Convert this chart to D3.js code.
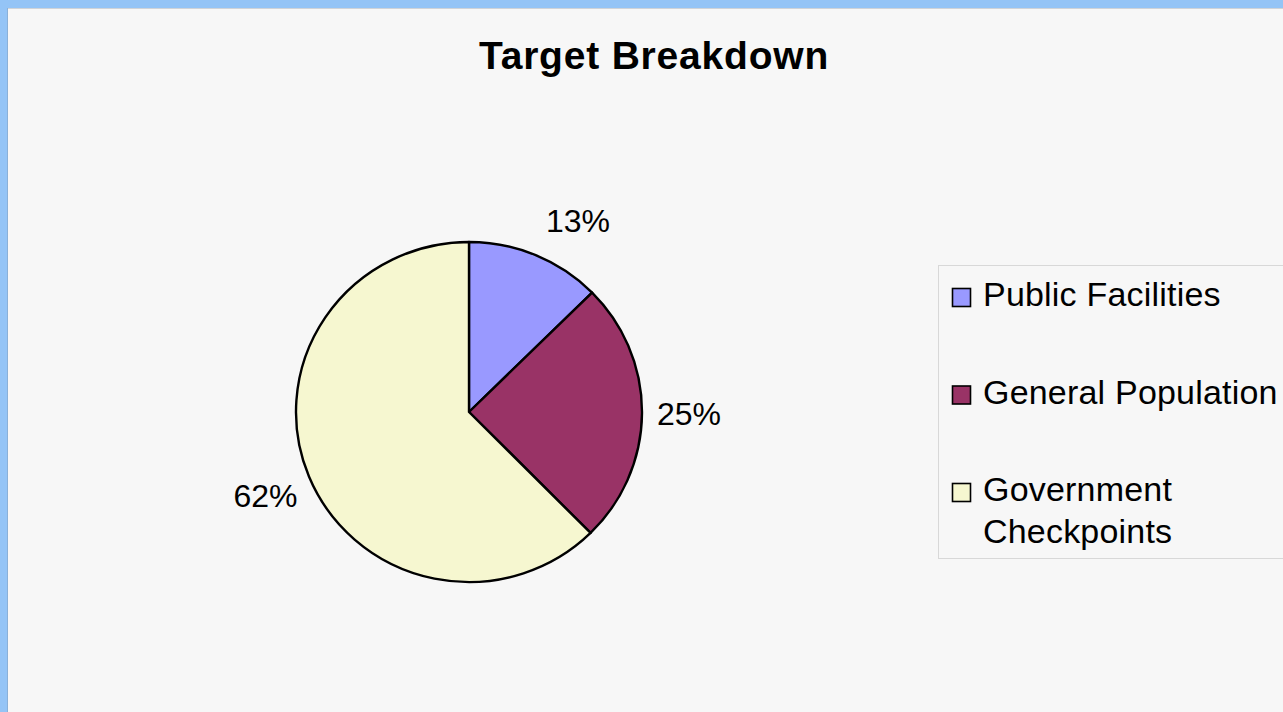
<!DOCTYPE html>
<html>
<head>
<meta charset="utf-8">
<script src="https://cdn.jsdelivr.net/npm/d3@7"></script>
<style>
  html, body { margin: 0; padding: 0; background: #94c4f6; }
  svg { display: block; }
</style>
</head>
<body>
<svg id="chart" width="1283" height="712"></svg>
<script>
// ---- data ----
const categories = ["Public Facilities", "General Population", "Government Checkpoints"];
const values = [12.6, 25, 62.4];
const colors = ["#9999ff", "#993366", "#f6f7d0"];
const legendLines = [["Public Facilities"], ["General Population"], ["Government", "Checkpoints"]];
const title = "Target Breakdown";

// ---- layout ----
const W = 1283, H = 712;
const cx = 469, cy = 412, rx = 173, ry = 170;
const labelR = 220;
const labelNudgeDeg = [7, 0, 0];
const font = "'Liberation Sans', Arial, Helvetica, sans-serif";

const svg = d3.select("#chart");

// frame
svg.append("rect").attr("x", 0).attr("y", 0).attr("width", W).attr("height", H).attr("fill", "#94c4f6");
svg.append("rect").attr("x", 7).attr("y", 8).attr("width", W).attr("height", H).attr("fill", "#f7f7f7");
svg.append("line").attr("x1", 7).attr("x2", W).attr("y1", 8.5).attr("y2", 8.5).attr("stroke", "#cfd3d8").attr("stroke-width", 1);
svg.append("line").attr("x1", 7.5).attr("x2", 7.5).attr("y1", 8).attr("y2", H).attr("stroke", "#8ab0d8").attr("stroke-width", 1);

// title
svg.append("text")
  .attr("x", 654).attr("y", 69)
  .attr("text-anchor", "middle")
  .attr("font-family", font).attr("font-weight", "bold")
  .attr("font-size", 39).attr("letter-spacing", 0.8)
  .attr("fill", "#000")
  .text(title);

// pie
const total = d3.sum(values);
const pie = d3.pie().sort(null).value(d => d)(values);
const arc = d3.arc().innerRadius(0).outerRadius(rx);

const g = svg.append("g").attr("transform", `translate(${cx},${cy}) scale(1,${ry / rx})`);
g.selectAll("path.slice")
  .data(pie)
  .join("path")
  .attr("class", "slice")
  .attr("d", arc)
  .attr("fill", (d, i) => colors[i])
  .attr("stroke", "#000")
  .attr("stroke-width", 2.4)
  .attr("stroke-linejoin", "round")
  .attr("vector-effect", "non-scaling-stroke");

// labels
const fmt = d3.format(".0%");
svg.selectAll("text.pct")
  .data(pie)
  .join("text")
  .attr("class", "pct")
  .attr("x", (d, i) => {
    const a = (d.startAngle + d.endAngle) / 2 + labelNudgeDeg[i] * Math.PI / 180;
    return cx + labelR * Math.sin(a);
  })
  .attr("y", (d, i) => {
    const a = (d.startAngle + d.endAngle) / 2 + labelNudgeDeg[i] * Math.PI / 180;
    return cy - labelR * Math.cos(a);
  })
  .attr("dy", "0.35em")
  .attr("text-anchor", "middle")
  .attr("font-family", font).attr("font-size", 32)
  .attr("fill", "#000")
  .text(d => fmt(d.data / total));

// legend
const lg = svg.append("g");
lg.append("rect")
  .attr("x", 938.5).attr("y", 265.5).attr("width", 400).attr("height", 293)
  .attr("fill", "#f7f7f7").attr("stroke", "#d8d8d8").attr("stroke-width", 1);

const itemY = d3.scalePoint().domain(categories).range([288, 483]);
const items = lg.selectAll("g.item").data(categories).join("g").attr("class", "item")
  .attr("transform", d => `translate(0,${itemY(d)})`);
items.append("rect")
  .attr("x", 952.5).attr("y", 0.5).attr("width", 18).attr("height", 18)
  .attr("fill", (d, i) => colors[i]).attr("stroke", "#000").attr("stroke-width", 1.6);
items.append("text")
  .attr("x", 983).attr("y", 18)
  .attr("font-family", font).attr("font-size", 34).attr("letter-spacing", 0.2)
  .attr("fill", "#000")
  .each(function (d, i) {
    const t = d3.select(this);
    legendLines[i].forEach((line, j) => {
      t.append("tspan").attr("x", 983).attr("dy", j === 0 ? 0 : 42).text(line);
    });
  });
</script>
</body>
</html>
